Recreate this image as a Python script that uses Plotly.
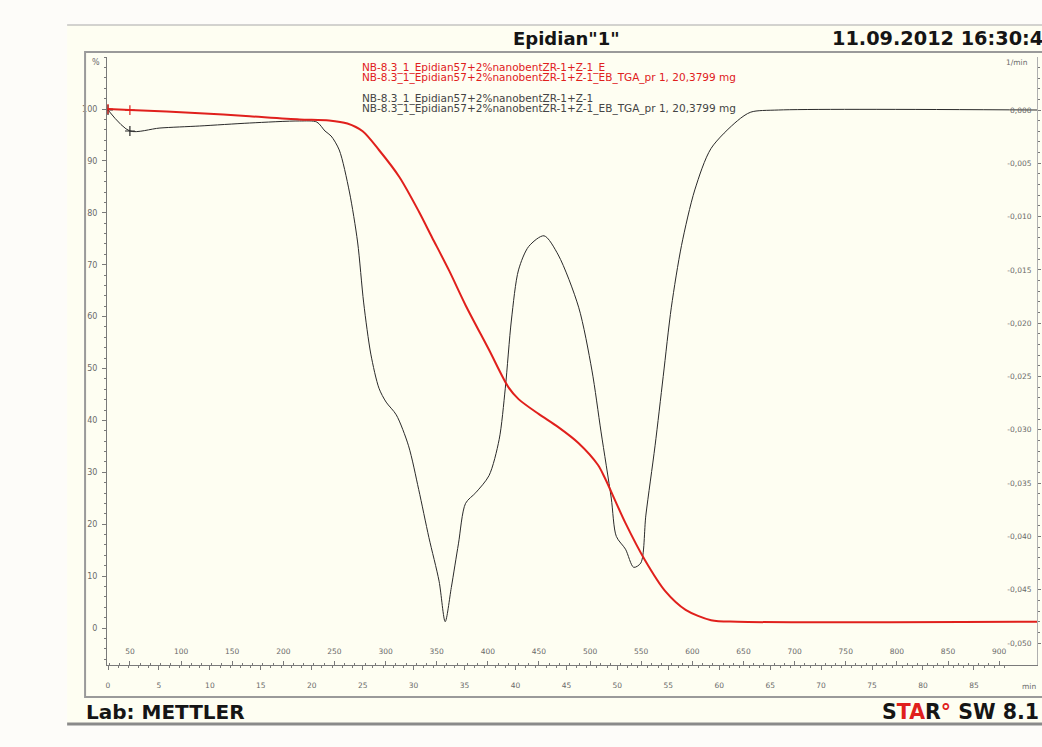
import plotly.graph_objects as go

# ---------------- data ----------------
# TGA curve: time [min] vs. mass [%]
t_tga = [0.0, 2.15, 9.0, 13.9, 18.8, 21.7, 23.5, 25.0, 26.6, 28.6, 30.5,
         31.8, 33.5, 35.1, 37.4, 39.3, 40.3, 42.3, 44.2, 46.2, 48.1, 48.8, 50.8, 52.7,
         54.7, 56.7, 59.2, 61.8, 91.2]
mass_pct = [100.0, 99.8, 99.2, 98.6, 98.0, 97.8, 97.2, 95.7, 92.1, 86.9, 80.3,
            75.3, 68.8, 62.2, 53.6, 46.4, 44.1, 41.2, 38.7, 35.6, 31.4, 28.8, 20.2, 13.1,
            7.1, 3.5, 1.5, 1.2, 1.2]

# DTG curve: time [min] vs. 1/min
t_dtg = [0.0, 2.15, 5.1, 9.0, 13.9, 18.8, 20.5, 21.3, 21.9, 22.7, 23.7, 24.5,
         25.1, 25.8, 26.6, 27.3, 28.3, 29.5, 30.5, 31.5, 32.5, 33.1, 33.7, 34.4,
         35.1, 36.1, 37.4, 38.4, 39.0, 39.6, 40.3, 41.3, 42.8, 44.2, 46.2, 47.5,
         48.4, 49.4, 49.9, 50.8, 51.6, 52.3, 52.8, 53.7, 54.5, 55.3, 56.3, 57.6,
         59.2, 61.8, 63.1, 65.8, 91.2]
dtg = [0.0, -0.00197, -0.00169, -0.00150, -0.00122, -0.00103, -0.00113, -0.00197,
       -0.00244, -0.00375, -0.00769, -0.01238, -0.0181, -0.0229, -0.0261, -0.0274,
       -0.0286, -0.0315, -0.0356, -0.0401, -0.0442, -0.0480, -0.0448, -0.0407,
       -0.0369, -0.0359, -0.0343, -0.0309, -0.0261, -0.0197, -0.0150, -0.0128,
       -0.0118, -0.0136, -0.0185, -0.0244, -0.0302, -0.0364, -0.0400, -0.0412,
       -0.0429, -0.0425, -0.0380, -0.0315, -0.0250, -0.0185, -0.0127, -0.0075,
       -0.0036, -0.0010, -0.0002, 0.0, 0.0]

time_ticks = list(range(0, 86, 5))
temp_ticks = list(range(50, 901, 50))
pct_ticks = list(range(0, 101, 10))
dtg_ticks = [0.0, -0.005, -0.010, -0.015, -0.020, -0.025, -0.030, -0.035,
             -0.040, -0.045, -0.050]
dtg_labels = ["0,000", "-0,005", "-0,010", "-0,015", "-0,020", "-0,025",
              "-0,030", "-0,035", "-0,040", "-0,045", "-0,050"]

title_text = 'Epidian"1"'
date_text = "11.09.2012 16:30:4"
legend_red = ["NB-8.3_1_Epidian57+2%nanobentZR-1+Z-1_E",
              "NB-8.3_1_Epidian57+2%nanobentZR-1+Z-1_EB_TGA_pr 1, 20,3799 mg"]
legend_black = ["NB-8.3_1_Epidian57+2%nanobentZR-1+Z-1",
                "NB-8.3_1_Epidian57+2%nanobentZR-1+Z-1_EB_TGA_pr 1, 20,3799 mg"]

# ---------------- layout geometry ----------------
W, H = 1042, 747
L, R, T, B = 107, 1040, 57, 665          # plot area in pixels
PX_PER_MIN = 10.22
X0_PIX = 108                              # pixel of t = 0
time_range = [(L - X0_PIX) / PX_PER_MIN, (R - X0_PIX) / PX_PER_MIN]
temp_range = [50 + (L - 130) / 1.0259, 50 + (R - 130) / 1.0259]
pct_range = [(628 - B) / 5.19, (628 - T) / 5.19]
dtg_range = [-(B - 110) / 10660.0, -(T - 110) / 10660.0]


def px(X):
    return (X - L) / (R - L)


def py(Y):
    return (B - Y) / (B - T)


RED = "#e0201c"
BLK = "#2a2a2a"
AX = "#7a7a7a"
TXT = "#6a6a6a"
FONT = "DejaVu Sans, Liberation Sans, Arial"

fig = go.Figure()

# DTG (primary y, right side)
fig.add_trace(go.Scatter(x=t_dtg, y=dtg, mode="lines", xaxis="x", yaxis="y",
                         line=dict(color=BLK, width=1, shape="spline", smoothing=0.8),
                         hoverinfo="skip", showlegend=False))
fig.add_trace(go.Scatter(x=t_dtg[:2], y=dtg[:2], mode="markers", xaxis="x", yaxis="y",
                         marker=dict(symbol="cross-thin", size=7,
                                     line=dict(color=BLK, width=1.2)),
                         hoverinfo="skip", showlegend=False))
# TGA (overlay y2, left side) -> drawn above the DTG curve
fig.add_trace(go.Scatter(x=t_tga, y=mass_pct, mode="lines", xaxis="x", yaxis="y2",
                         line=dict(color=RED, width=2, shape="spline", smoothing=0.8),
                         hoverinfo="skip", showlegend=False))
fig.add_trace(go.Scatter(x=t_tga[:2], y=mass_pct[:2], mode="markers", xaxis="x", yaxis="y2",
                         marker=dict(symbol="cross-thin", size=7,
                                     line=dict(color=RED, width=1.2)),
                         hoverinfo="skip", showlegend=False))
# invisible trace so the temperature axis is drawn
fig.add_trace(go.Scatter(x=[temp_ticks[0]], y=[0], mode="markers", xaxis="x2", yaxis="y",
                         marker=dict(opacity=0, size=1), hoverinfo="skip", showlegend=False))

tickfont_small = dict(family=FONT, size=7.5, color=TXT)

fig.update_layout(
    width=W, height=H,
    margin=dict(l=L, r=W - R, t=T, b=H - B, pad=0),
    paper_bgcolor="#fdfcf9",
    plot_bgcolor="rgba(0,0,0,0)",
    showlegend=False,
    xaxis=dict(
        range=time_range, showgrid=False, zeroline=False,
        showline=True, linecolor=AX, linewidth=1,
        tickmode="array", tickvals=time_ticks,
        ticks="outside", ticklen=4, tickcolor=AX,
        minor=dict(tickmode="linear", tick0=0, dtick=1, ticks="outside",
                   ticklen=2, tickcolor=AX),
        tickfont=tickfont_small, ticklabelstandoff=9,
        anchor="y",
    ),
    xaxis2=dict(
        range=temp_range, overlaying="x", side="bottom", anchor="y",
        showgrid=False, zeroline=False, showline=False,
        tickmode="array", tickvals=temp_ticks,
        ticks="inside", ticklen=4, tickcolor=AX,
        minor=dict(tickmode="linear", tick0=0, dtick=10, ticks="inside",
                   ticklen=2, tickcolor=AX),
        ticklabelposition="inside", ticklabelstandoff=4,
        tickfont=tickfont_small,
    ),
    yaxis=dict(
        range=dtg_range, side="right", anchor="x",
        showgrid=False, zeroline=False,
        showline=True, linecolor="#b0b0b0", linewidth=1,
        tickmode="array", tickvals=dtg_ticks, ticktext=dtg_labels,
        ticks="outside", ticklen=3, tickcolor=AX,
        minor=dict(tickmode="linear", tick0=0, dtick=0.001, ticks="outside",
                   ticklen=2, tickcolor=AX),
        ticklabelposition="inside", ticklabelstandoff=4,
        tickfont=tickfont_small,
    ),
    yaxis2=dict(
        range=pct_range, side="left", overlaying="y", anchor="x",
        showgrid=False, zeroline=False,
        showline=True, linecolor=AX, linewidth=1,
        tickmode="array", tickvals=pct_ticks,
        ticks="outside", ticklen=4, tickcolor=AX,
        minor=dict(tickmode="linear", tick0=0, dtick=2, ticks="outside",
                   ticklen=2, tickcolor=AX),
        ticklabelstandoff=3,
        tickfont=dict(family=FONT, size=8, color=TXT),
    ),
)

shapes = [
    # cream report page
    dict(type="rect", xref="paper", yref="paper", layer="below",
         x0=px(67), x1=px(1060), y0=py(724), y1=py(25),
         fillcolor="#fefef2", line=dict(width=0)),
    # top border of page
    dict(type="line", xref="paper", yref="paper",
         x0=px(67), x1=px(1060), y0=py(25), y1=py(25),
         line=dict(color="#a8a8a8", width=1)),
    # diagram frame
    dict(type="rect", xref="paper", yref="paper",
         x0=px(85), x1=px(1060), y0=py(697), y1=py(52),
         line=dict(color="#9a9a9a", width=2)),
    # bottom bar
    dict(type="line", xref="paper", yref="paper",
         x0=px(67), x1=px(1060), y0=py(724), y1=py(724),
         line=dict(color="#8a8a8a", width=3)),
]

ann = []


def add_text(text, X, Y, size, color="#111111", bold=False, anchor="left", family=FONT):
    ann.append(dict(text=("<b>%s</b>" % text) if bold else text,
                    xref="paper", yref="paper", x=px(X), y=py(Y),
                    xanchor=anchor, yanchor="middle", showarrow=False,
                    font=dict(family=family, size=size, color=color)))


add_text(title_text, 568, 38, 18, color="#151515", bold=True, anchor="center")
add_text(date_text, 832, 38, 19.3, color="#151515", bold=True)
add_text("%", 90, 62, 8, color=TXT)
add_text("1/min", 1033, 62, 7.5, color=TXT, anchor="right")
add_text("min", 1041, 686, 7.5, color=TXT, anchor="right")
for i, s in enumerate(legend_red):
    add_text(s, 361, 68 + 10 * i, 10.5, color=RED)
for i, s in enumerate(legend_black):
    add_text(s, 361, 98 + 10 * i, 10.5, color="#444444")
add_text("Lab: METTLER", 84, 712, 20, color="#151515", bold=True)
add_text("S<span style='color:#e0201c'>TA</span>R<span style='color:#e0201c'>°</span> SW 8.1",
         882, 712, 20.5, color="#151515", bold=True)

fig.update_layout(shapes=shapes, annotations=ann)
fig.write_html("out.html")
